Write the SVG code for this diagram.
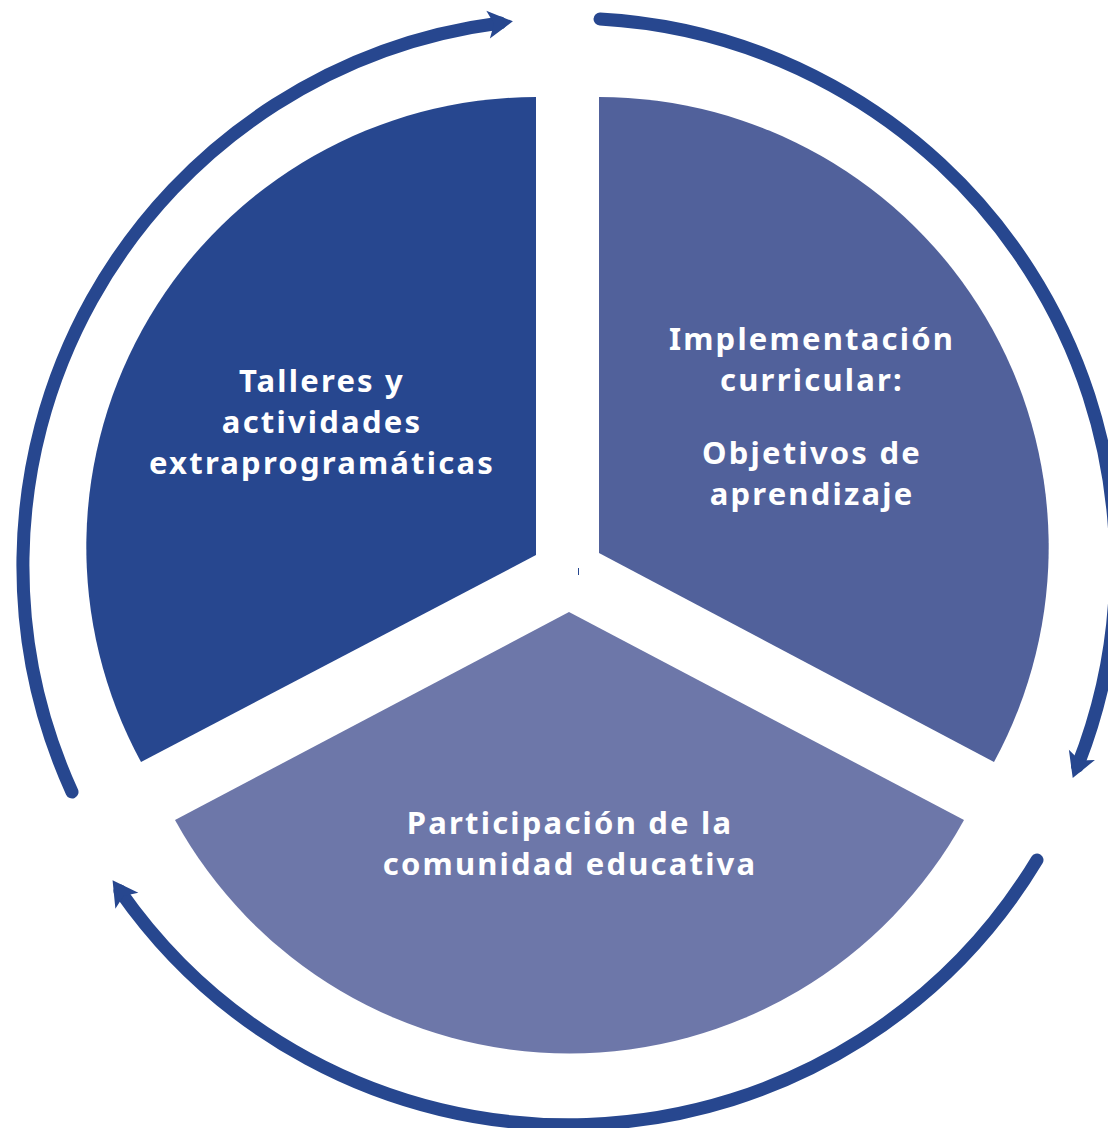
<svg xmlns="http://www.w3.org/2000/svg" width="1108" height="1128" viewBox="0 0 1108 1128">
<style>
.lbl{font-family:"Noto Sans","Liberation Sans",sans-serif;font-weight:700;font-size:31px;fill:#ffffff;text-anchor:middle;letter-spacing:2.2px}
.cyc{fill:none;stroke:#27478F;stroke-width:13;stroke-linecap:round}
</style>
<defs>
<marker id="ah" markerUnits="userSpaceOnUse" orient="auto" overflow="visible" markerWidth="1" markerHeight="1" refX="0" refY="0">
<path d="M13,0 L-12,-14 L-6,0 L-12,14 Z" fill="#27478F"/>
</marker>
</defs>
<rect width="1108" height="1128" fill="#ffffff"/>
<g id="node-talleres">
<path d="M536,555 L536,97 A450,450 0 0 0 141,762 Z" fill="#27478F"/>
<text class="lbl"><tspan x="322" y="392">Talleres y</tspan><tspan x="322" y="433">actividades</tspan><tspan x="322" y="474">extraprogramáticas</tspan></text>
</g>
<g id="node-implementacion">
<path d="M599,553 L599,97 A450,450 0 0 1 994,762 Z" fill="#51619B"/>
<text class="lbl"><tspan x="812" y="350">Implementación</tspan><tspan x="812" y="391">curricular:</tspan><tspan x="812" y="464">Objetivos de</tspan><tspan x="812" y="505">aprendizaje</tspan></text>
</g>
<g id="node-participacion">
<path d="M569,612 L964,820 A450,450 0 0 1 175,820 Z" fill="#6D77A9"/>
<text class="lbl"><tspan x="570" y="834">Participación de la</tspan><tspan x="570" y="875">comunidad educativa</tspan></text>
</g>
<rect x="578" y="568" width="1" height="7" fill="#27478F"/>
<g id="connectors">
<path class="cyc" d="M72,792 A547,547 0 0 1 500,23" marker-end="url(#ah)"/>
<path class="cyc" d="M600,19 A547,547 0 0 1 1077.5,766" marker-end="url(#ah)"/>
<path class="cyc" d="M1037,860 A547,547 0 0 1 120,891" marker-end="url(#ah)"/>
</g>
</svg>
